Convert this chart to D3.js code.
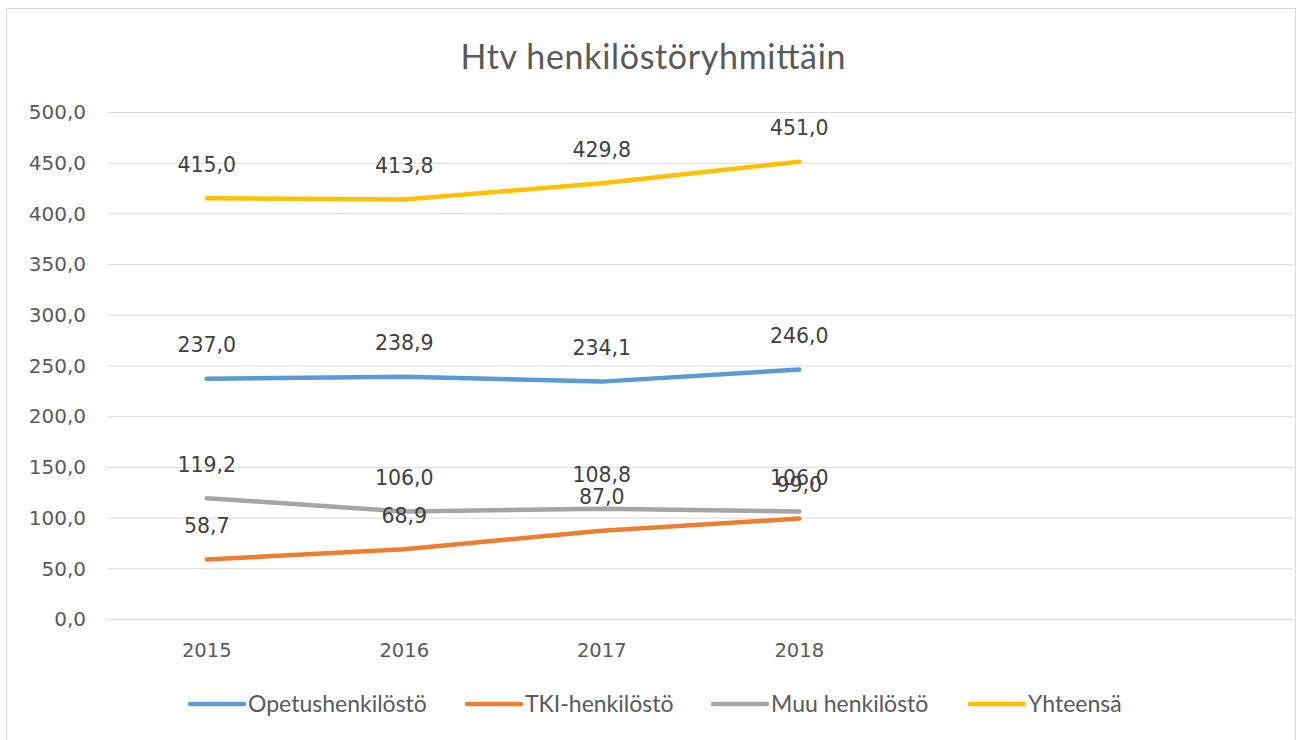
<!DOCTYPE html>
<html>
<head>
<meta charset="utf-8">
<script src="https://cdn.jsdelivr.net/npm/d3@7"></script>
<style>
  body { margin: 0; background: #fff; }
  .grid line { stroke: #d9d9d9; stroke-width: 1; }
  .grid path { display: none; }
</style>
</head>
<body>
<div class="chart"></div>
<script>
var years = ["2015", "2016", "2017", "2018", "", " "];
var opetus = [237.0, 238.9, 234.1, 246.0];
var tki = [58.7, 68.9, 87.0, 99.0];
var muu = [119.2, 106.0, 108.8, 106.0];
var yhteensa = [415.0, 413.8, 429.8, 451.0];
var yTicks = [0, 50, 100, 150, 200, 250, 300, 350, 400, 450, 500];

var seriesNames = ["Opetushenkilöstö", "TKI-henkilöstö", "Muu henkilöstö", "Yhteensä"];
var seriesValues = [opetus, tki, muu, yhteensa];
var colors = ["#5b9bd5", "#ed7d31", "#a5a5a5", "#ffc000"];

var svgWidth = 1297;
var svgHeight = 740;
var plotLeft = 108, plotRight = 1293, plotTop = 112, plotBottom = 619;
var numFont = "DejaVu Sans";

var svg = d3.select(".chart")
  .append("svg")
  .attr("width", svgWidth)
  .attr("height", svgHeight);

// chart frame
svg.append("rect")
  .attr("x", 6.5).attr("y", 8.5)
  .attr("width", 1289).attr("height", 740)
  .attr("fill", "#fff")
  .attr("stroke", "#d9d9d9");

var x = d3.scaleBand().domain(years).range([plotLeft, plotRight]);
var y = d3.scaleLinear().domain([0, 500]).range([plotBottom, plotTop]);
var fmt = function(v) { return d3.format(".1f")(v).replace(".", ","); };

// gridlines
svg.append("g")
  .attr("class", "grid")
  .attr("transform", "translate(" + plotLeft + ",0)")
  .call(d3.axisLeft(y).tickValues(yTicks).tickSize(-(plotRight - plotLeft)).tickFormat(""));

// y labels
svg.append("g")
  .selectAll("text")
  .data(yTicks)
  .enter()
  .append("text")
  .attr("x", 86)
  .attr("y", function(d) { return y(d); })
  .attr("dy", "0.36em")
  .attr("text-anchor", "end")
  .attr("font-family", numFont)
  .attr("font-size", 20)
  .attr("fill", "#595959")
  .text(fmt);

// x labels
svg.append("g")
  .selectAll("text")
  .data(years.slice(0, 4))
  .enter()
  .append("text")
  .attr("x", function(d) { return x(d) + x.bandwidth() / 2; })
  .attr("y", 650)
  .attr("dy", "0.36em")
  .attr("text-anchor", "middle")
  .attr("font-family", numFont)
  .attr("font-size", 19.5)
  .attr("fill", "#595959")
  .text(function(d) { return d; });

// title
svg.append("text")
  .attr("x", 653)
  .attr("y", 57)
  .attr("dy", "0.36em")
  .attr("text-anchor", "middle")
  .attr("font-family", "Lato")
  .attr("font-size", 34)
  .attr("textLength", 385)
  .attr("lengthAdjust", "spacing")
  .attr("fill", "#595959")
  .text("Htv henkilöstöryhmittäin");

var line = d3.line()
  .x(function(d, i) { return x(years[i]) + x.bandwidth() / 2; })
  .y(function(d) { return y(d); });

seriesValues.forEach(function(vals, s) {
  svg.append("path")
    .datum(vals)
    .attr("d", line)
    .attr("fill", "none")
    .attr("stroke", colors[s])
    .attr("stroke-width", 4.5)
    .attr("stroke-linecap", "round")
    .attr("stroke-linejoin", "round");
});

seriesValues.forEach(function(vals, s) {
  svg.append("g")
    .selectAll("text")
    .data(vals)
    .enter()
    .append("text")
    .attr("x", function(d, i) { return x(years[i]) + x.bandwidth() / 2; })
    .attr("y", function(d) { return y(d) - 34; })
    .attr("dy", "0.36em")
    .attr("text-anchor", "middle")
    .attr("font-family", numFont)
    .attr("font-size", 20.5)
    .attr("fill", "#404040")
    .text(fmt);
});

// legend
var legendX = [190, 467, 713, 970];
var legend = svg.append("g");
seriesNames.forEach(function(name, s) {
  legend.append("line")
    .attr("x1", legendX[s]).attr("x2", legendX[s] + 54)
    .attr("y1", 704).attr("y2", 704)
    .attr("stroke", colors[s])
    .attr("stroke-width", 4.5)
    .attr("stroke-linecap", "round");
  legend.append("text")
    .attr("x", legendX[s] + 58)
    .attr("y", 704)
    .attr("dy", "0.36em")
    .attr("font-family", "Lato")
    .attr("font-size", 23)
    .attr("fill", "#595959")
    .text(name);
});
</script>
</body>
</html>
